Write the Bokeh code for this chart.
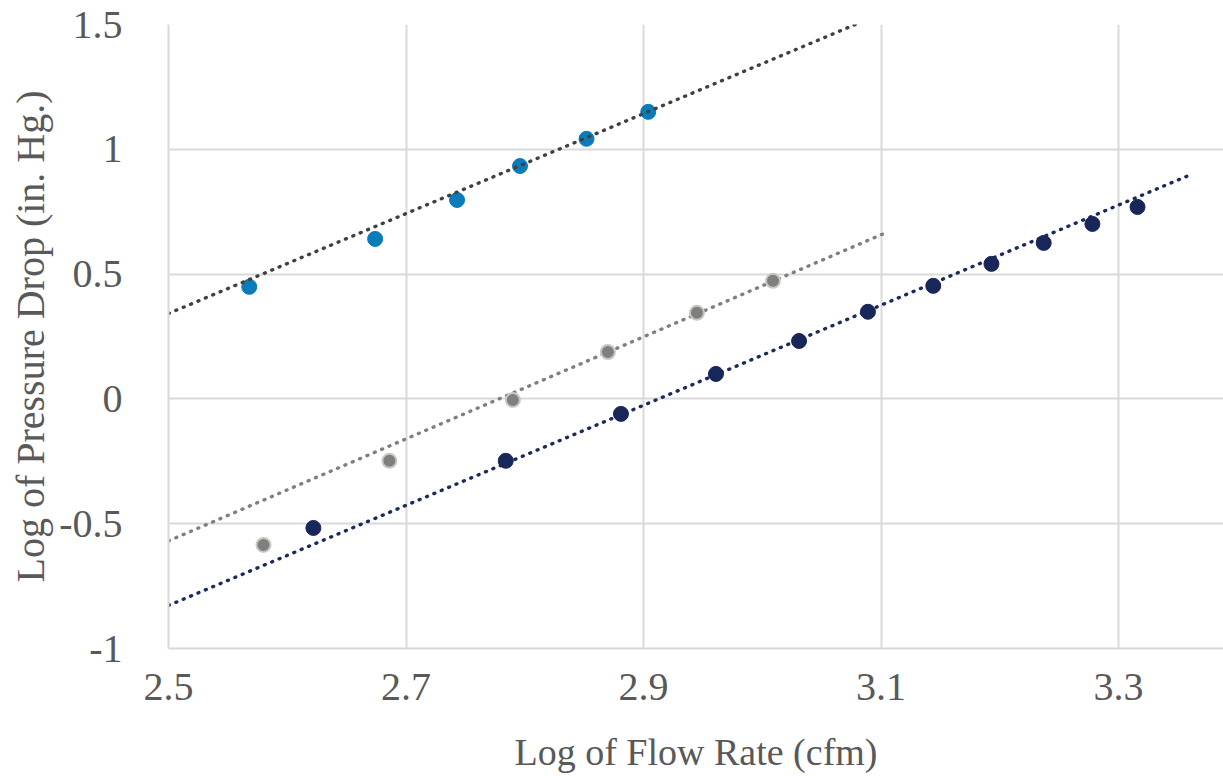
import numpy as np
from bokeh.plotting import figure
from bokeh.models import FixedTicker, Range1d
from bokeh.embed import file_html
from bokeh.resources import INLINE

# ---- data ----
dark_x = [2.622, 2.784, 2.881, 2.961, 3.031, 3.089, 3.144, 3.193, 3.237, 3.278, 3.316]
dark_y = [-0.517, -0.248, -0.060, 0.100, 0.232, 0.349, 0.453, 0.541, 0.625, 0.701, 0.769]

gray_x = [2.580, 2.686, 2.790, 2.870, 2.945, 3.009]
gray_y = [-0.585, -0.248, -0.004, 0.188, 0.345, 0.473]

blue_x = [2.568, 2.674, 2.743, 2.796, 2.852, 2.904]
blue_y = [0.449, 0.641, 0.797, 0.933, 1.042, 1.150]

# trendlines as shown in the chart: [slope, intercept] and x span
dark_trend = [2.005, -5.840]
gray_trend = [2.044, -5.679]
blue_trend = [2.002, -4.663]
dark_trend_span = [2.5, 3.3626]
gray_trend_span = [2.5, 3.1052]
blue_trend_span = [2.5, 3.0785]

x_ticks = [2.5, 2.7, 2.9, 3.1, 3.3]
x_tick_labels = ["2.5", "2.7", "2.9", "3.1", "3.3"]
y_ticks = [-1, -0.5, 0, 0.5, 1, 1.5]
y_tick_labels = ["-1", "-0.5", "0", "0.5", "1", "1.5"]

FONT = "'Liberation Serif', serif"
TXT = "#595959"
GRID = "#D9D9D9"

p = figure(width=1223, height=776, output_backend="svg", toolbar_location=None,
           x_range=Range1d(2.5, 3.3884), y_range=Range1d(-1, 1.5),
           min_border_left=168, min_border_right=0, min_border_top=24, min_border_bottom=128)
p.outline_line_color = None
p.background_fill_color = "white"
p.border_fill_color = "white"

p.xaxis.ticker = FixedTicker(ticks=x_ticks)
p.yaxis.ticker = FixedTicker(ticks=y_ticks)
p.xaxis.major_label_overrides = {t: l for t, l in zip(x_ticks, x_tick_labels)}
p.yaxis.major_label_overrides = {t: l for t, l in zip(y_ticks, y_tick_labels)}

for ax in (p.xaxis[0], p.yaxis[0]):
    ax.axis_line_color = GRID
    ax.axis_line_width = 2
    ax.major_tick_line_color = None
    ax.minor_tick_line_color = None
    ax.major_label_text_font = FONT
    ax.major_label_text_font_size = "40px"
    ax.major_label_text_color = TXT
    ax.axis_label_text_font = FONT
    ax.axis_label_text_color = TXT
    ax.axis_label_text_font_style = "normal"

p.xaxis.axis_label = "Log of Flow Rate (cfm)"
p.yaxis.axis_label = "Log of Pressure Drop (in. Hg.)"
p.xaxis.axis_label_text_font_size = "38px"
p.yaxis.axis_label_text_font_size = "40px"
p.xaxis.major_label_standoff = 19
p.yaxis.major_label_standoff = 40
p.xaxis.axis_label_standoff = 28
p.yaxis.axis_label_standoff = 3

p.xgrid.grid_line_color = GRID
p.ygrid.grid_line_color = GRID
p.xgrid.grid_line_width = 2
p.ygrid.grid_line_width = 2


def trend(coef, span, color):
    k, b = coef
    tx = np.array(span)
    p.line(tx, k * tx + b, line_color=color, line_width=3.4, line_dash="1 7",
           line_cap="round")


trend(dark_trend, dark_trend_span, "#1B2A5C")
trend(gray_trend, gray_trend_span, "#7F7F7F")

p.scatter(dark_x, dark_y, size=15, fill_color="#18265A", line_color="#18265A")
p.scatter(gray_x, gray_y, size=14, fill_color="#7F7F7F", line_color="#C8C8C0", line_width=2)
p.scatter(blue_x, blue_y, size=15, fill_color="#0A7CBA", line_color="#0A7CBA")

# blue series trendline drawn over its points, as in the reference
trend(blue_trend, blue_trend_span, "#404040")

open("out.html", "w").write(file_html(p, INLINE))
